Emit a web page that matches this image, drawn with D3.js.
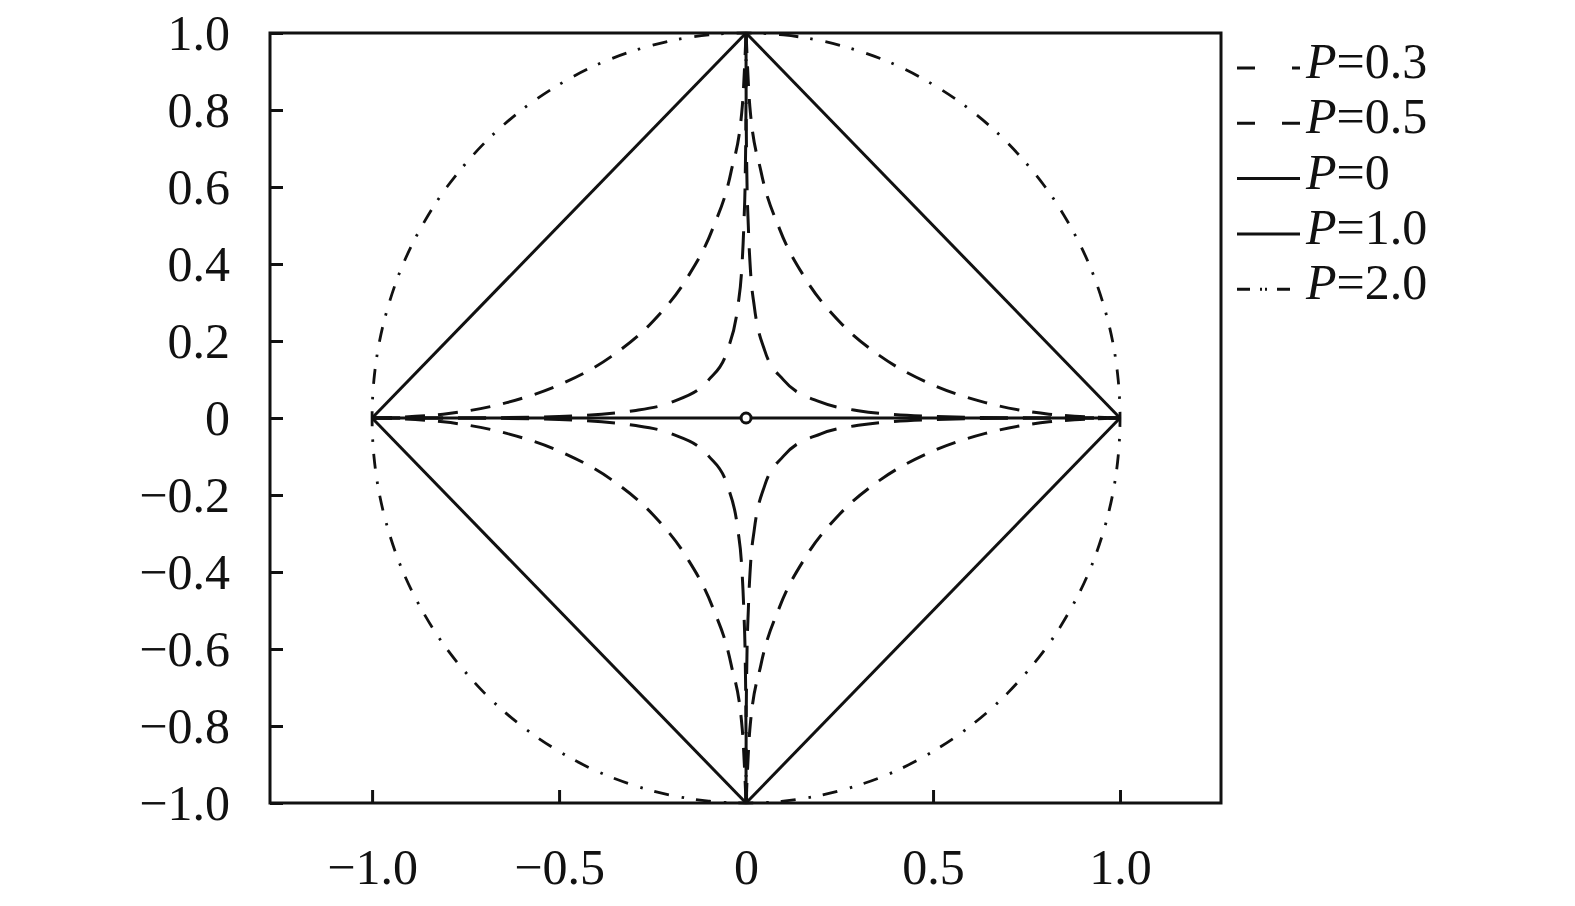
<!DOCTYPE html>
<html>
<head>
<meta charset="utf-8">
<script src="https://cdn.jsdelivr.net/npm/d3@7"></script>
<style>
  body { margin: 0; background: #fff; }
  text { font-family: "Liberation Serif", "Times New Roman", serif; }
</style>
</head>
<body>
<svg id="chart" width="1575" height="906"></svg>
<script>
// tick values
const xTicks = [-1.0, -0.5, 0, 0.5, 1.0];
const yTicks = [-1.0, -0.8, -0.6, -0.4, -0.2, 0, 0.2, 0.4, 0.6, 0.8, 1.0];

// first-quadrant points [x, y]
const p03 = [[0, 1], [0.00002, 0.9], [0.0003, 0.8], [0.002, 0.64], [0.006, 0.5], [0.012, 0.38],
  [0.022, 0.29], [0.05, 0.175], [0.1, 0.099], [0.2, 0.041], [0.3, 0.019], [0.5, 0.004], [0.7, 0.0005], [1, 0]];
const p05 = [[0, 1], [0.01, 0.81], [0.04, 0.64], [0.09, 0.49], [0.16, 0.36], [0.25, 0.25],
  [0.36, 0.16], [0.49, 0.09], [0.64, 0.04], [0.81, 0.01], [1, 0]];
const p10 = [[0, 1], [1, 0]];
const p20 = [[0, 1], [0.1, 0.995], [0.2, 0.98], [0.3, 0.954], [0.4, 0.917], [0.5, 0.866], [0.6, 0.8],
  [0.7, 0.714], [0.8, 0.6], [0.866, 0.5], [0.917, 0.4], [0.954, 0.3], [0.98, 0.2], [0.995, 0.1], [1, 0]];
const p0 = [[-1, 0], [1, 0]];

const legendLabels = ["0.3", "0.5", "0", "1.0", "2.0"];

const svg = d3.select("#chart");
const margin = { top: 33, right: 354, bottom: 103, left: 270 };
const width = +svg.attr("width");
const height = +svg.attr("height");

const x = d3.scaleLinear().domain([-1.273, 1.27]).range([margin.left, width - margin.right]);
const y = d3.scaleLinear().domain([-1, 1]).range([height - margin.bottom, margin.top]);

const fmt = d => d === 0 ? "0" : d3.format(".1f")(d);

// mirror a quadrant into the four quadrants
function quadrants(pts) {
  return [
    pts.map(([a, b]) => [a, b]),
    pts.map(([a, b]) => [-a, b]),
    pts.map(([a, b]) => [a, -b]),
    pts.map(([a, b]) => [-a, -b])
  ];
}

const line = d3.line().x(d => x(d[0])).y(d => y(d[1]));
const g = svg.append("g").attr("fill", "none").attr("stroke", "#111").attr("stroke-width", 3);

// P=2.0 circle
const circlePts = [].concat(
  p20,
  p20.slice().reverse().slice(1).map(([a, b]) => [a, -b]),
  p20.slice(1).map(([a, b]) => [-a, -b]),
  p20.slice().reverse().slice(1, -1).map(([a, b]) => [-a, b])
);
g.append("path")
  .attr("d", line.curve(d3.curveCatmullRomClosed)(circlePts))
  .attr("stroke-width", 2.8)
  .attr("stroke-dasharray", "15,12,2.5,13");

// P=1.0 diamond
quadrants(p10).forEach(q => {
  g.append("path").attr("d", line.curve(d3.curveLinear)(q));
});

// P=0 line
g.append("path").attr("d", line.curve(d3.curveLinear)(p0));

// P=0.5
quadrants(p05).forEach(q => {
  const s = q.slice().sort((a, b) => a[0] - b[0]);
  g.append("path")
    .attr("d", line.curve(d3.curveMonotoneX)(s))
    .attr("stroke-dasharray", "20,13");
});

// P=0.3
quadrants(p03).forEach(q => {
  const s = q.slice().sort((a, b) => a[0] - b[0]);
  g.append("path")
    .attr("d", line.curve(d3.curveMonotoneX)(s))
    .attr("stroke-dasharray", "28,15");
});

// small circle at origin
g.append("circle").attr("cx", x(0)).attr("cy", y(0)).attr("r", 5).attr("fill", "#fff");

// frame
svg.append("rect")
  .attr("x", x(-1.273)).attr("y", y(1))
  .attr("width", x(1.27) - x(-1.273)).attr("height", y(-1) - y(1))
  .attr("fill", "none").attr("stroke", "#111").attr("stroke-width", 3);

// axes
const yAxis = svg.append("g")
  .attr("transform", `translate(${margin.left},0)`)
  .call(d3.axisLeft(y).tickValues(yTicks).tickFormat(fmt).tickSize(-13).tickPadding(40));
const xAxis = svg.append("g")
  .attr("transform", `translate(0,${height - margin.bottom})`)
  .call(d3.axisBottom(x).tickValues(xTicks).tickFormat(fmt).tickSize(-13).tickPadding(45));

[xAxis, yAxis].forEach(a => {
  a.select(".domain").remove();
  a.selectAll("line").attr("stroke", "#111").attr("stroke-width", 3);
  a.selectAll("text").attr("font-size", 50).attr("fill", "#111")
    .style("font-family", "'Liberation Serif', serif");
});

// legend
const legendDash = ["18,37,8,40", "18,27,18,40", null, null, "13,10,2,3,2,10,13"];
const legend = svg.append("g");
legendLabels.forEach((lab, i) => {
  const ly = 68 + i * 55.3;
  legend.append("line")
    .attr("x1", 1237).attr("x2", 1300).attr("y1", ly).attr("y2", ly)
    .attr("stroke", "#111").attr("stroke-width", 3)
    .attr("stroke-dasharray", legendDash[i]);
  const t = legend.append("text")
    .attr("x", 1306).attr("y", ly + 10)
    .attr("font-size", 50).attr("fill", "#111");
  t.append("tspan").attr("font-style", "italic").text("P");
  t.append("tspan").text("=" + lab);
});
</script>
</body>
</html>
